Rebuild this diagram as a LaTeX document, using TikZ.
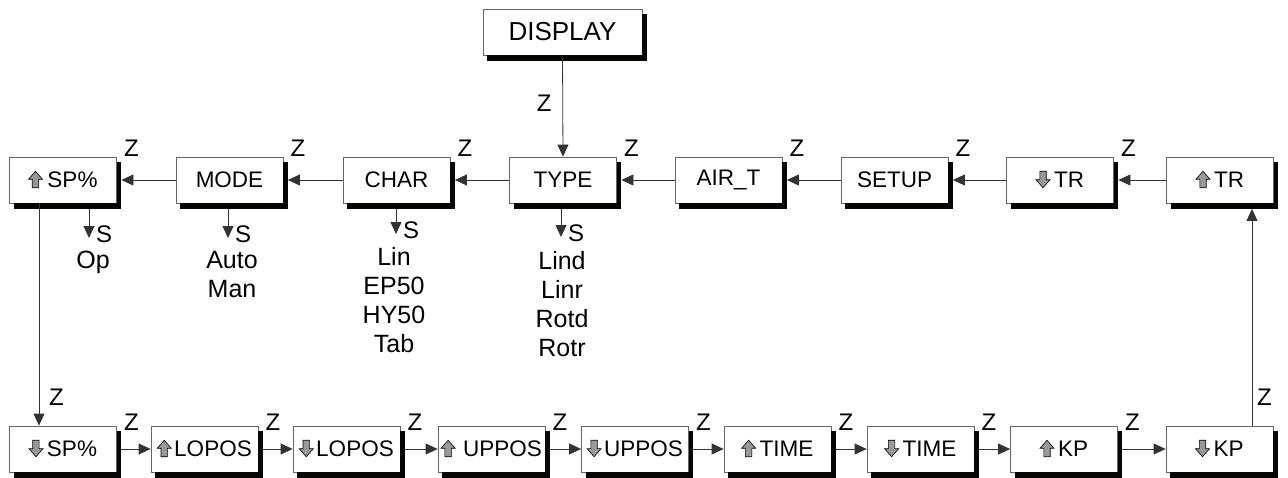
\documentclass[tikz,border=0pt]{standalone}
\usepackage{fontspec}
\setmainfont{Liberation Sans}
\usetikzlibrary{arrows.meta, calc}
\definecolor{shadowink}{rgb}{0.03,0.02,0.02}

\tikzset{
  menu/.style={draw=black!60, line width=0.8pt, fill=white, minimum width=107pt, minimum height=46pt,
    inner sep=0pt, font=\fontsize{22.5}{26}\selectfont},
  boxshadow/.style={fill=shadowink, draw=none},
  keyglyph/.style={fill=black!40, draw=black, line width=0.6pt},
  flow/.style={draw=black!80, line width=0.8pt, -{Triangle[length=12pt,width=11pt]}},
  keyz/.style={font=\fontsize{24}{28}\selectfont, inner sep=0pt},
  choices/.style={font=\fontsize{25}{29}\selectfont, inner sep=0pt, align=center, anchor=north},
  % grey block arrows shown in front of the box texts (y grows downwards here)
  upkey/.pic={\filldraw[keyglyph] (-3.2,0) -- (3.2,0) -- (3.2,-8.5) -- (7,-8.5) -- (0,-16.5) -- (-7,-8.5) -- (-3.2,-8.5) -- cycle;},
  dnkey/.pic={\filldraw[keyglyph] (-3.2,-16.5) -- (3.2,-16.5) -- (3.2,-8) -- (7,-8) -- (0,0) -- (-7,-8) -- (-3.2,-8) -- cycle;},
}

\begin{document}
\begin{tikzpicture}[x=1pt, y=-1pt]
    \useasboundingbox (0,0) rectangle (1288,477);

    \node[menu, minimum width=159pt, font=\fontsize{26}{30}\selectfont] (display) at (562.5,32) {DISPLAY};

    % upper row
    \node[menu] (spup) at (63,180) {\hspace{19pt}SP\%};
    \node[menu] (mode) at (229.5,180) {MODE};
    \node[menu] (char) at (396.5,180) {CHAR};
    \node[menu] (type) at (563,180) {TYPE};
    \node[menu] (airt) at (728.5,180) {AIR\_T};
    \node[menu] (setup) at (894.5,180) {SETUP};
    \node[menu] (trdn) at (1060,180) {\hspace{18pt}TR};
    \node[menu] (trup) at (1220,180) {\hspace{18pt}TR};

    % lower row
    \node[menu] (spdn) at (63,449) {\hspace{18pt}SP\%};
    \node[menu] (loup) at (204.5,449) {\hspace{17pt}LOPOS};
    \node[menu] (lodn) at (346.5,449) {\hspace{17pt}LOPOS};
    \node[menu] (hiup) at (491.5,449) {\hspace{22pt}UPPOS};
    \node[menu] (hidn) at (635,449) {\hspace{17pt}UPPOS};
    \node[menu] (timeup) at (777.5,449) {\hspace{18pt}TIME};
    \node[menu] (timedn) at (920.5,449) {\hspace{18pt}TIME};
    \node[menu] (kpup) at (1064,449) {\hspace{18pt}KP};
    \node[menu] (kpdn) at (1219.5,449) {\hspace{18pt}KP};

    % black shadows: a strip on the right and one below each box
    \foreach \n in {display,spup,mode,char,type,airt,setup,trdn,trup,spdn,loup,lodn,hiup,hidn,timeup,timedn,kpup,kpdn} {
        \fill[boxshadow] ([yshift=-5.5pt]\n.north east) rectangle ([xshift=4.5pt,yshift=-5.5pt]\n.south east);
        \fill[boxshadow] ([xshift=4.5pt]\n.south west) rectangle ([xshift=4.5pt,yshift=-5.5pt]\n.south east);
    }

    \foreach \n in {spup,trup,loup,hiup,timeup,kpup}
        \pic at ([xshift=7pt]\n.text) {upkey};
    \foreach \n in {trdn,spdn,lodn,hidn,timedn,kpdn}
        \pic at ([xshift=7pt]\n.text) {dnkey};

    \draw[flow] (display.south) -- (type.north);
    \node[keyz, anchor=base east] at ($(display.south)!0.55!(type.north) + (-11,0)$) {Z};

    \draw[flow] (mode.west) -- ([xshift=4.5pt]spup.east);
    \draw[flow] (char.west) -- ([xshift=4.5pt]mode.east);
    \draw[flow] (type.west) -- ([xshift=4.5pt]char.east);
    \draw[flow] (airt.west) -- ([xshift=4.5pt]type.east);
    \draw[flow] (setup.west) -- ([xshift=4.5pt]airt.east);
    \draw[flow] (trdn.west) -- ([xshift=4.5pt]setup.east);
    \draw[flow] (trup.west) -- ([xshift=4.5pt]trdn.east);
    \foreach \n in {spup,mode,char,type,airt,setup,trdn}
        \node[keyz, anchor=base west] at ([xshift=7pt]\n.north east) {Z};

    \draw[flow] ([xshift=4.5pt]spdn.east) -- (loup.west);
    \draw[flow] ([xshift=4.5pt]loup.east) -- (lodn.west);
    \draw[flow] ([xshift=4.5pt]lodn.east) -- (hiup.west);
    \draw[flow] ([xshift=4.5pt]hiup.east) -- (hidn.west);
    \draw[flow] ([xshift=4.5pt]hidn.east) -- (timeup.west);
    \draw[flow] ([xshift=4.5pt]timeup.east) -- (timedn.west);
    \draw[flow] ([xshift=4.5pt]timedn.east) -- (kpup.west);
    \draw[flow] ([xshift=4.5pt]kpup.east) -- (kpdn.west);
    \foreach \n in {spdn,loup,lodn,hiup,hidn,timeup,timedn,kpup}
        \node[keyz, anchor=base west] at ([xshift=7pt,yshift=-5pt]\n.north east) {Z};

    % loop down on the left, up on the right
    \draw[flow] ([xshift=-24pt]spup.south) -- ([xshift=-24pt]spdn.north);
    \node[keyz, anchor=base west] at (49,405) {Z};
    \draw[flow] ([xshift=32.5pt]kpdn.north) -- ([xshift=32pt,yshift=-5.5pt]trup.south);
    \node[keyz, anchor=base west] at (1257,405) {Z};

    % S key choices
    \coordinate (spS) at (89,238);
    \coordinate (modeS) at (228,238);
    \coordinate (charS) at (396,234);
    \coordinate (typeS) at (561,237);
    \draw[flow] ([yshift=-5.5pt]spup.south -| spS) -- (spS);
    \draw[flow] ([yshift=-5.5pt]mode.south -| modeS) -- (modeS);
    \draw[flow] ([yshift=-5.5pt]char.south -| charS) -- (charS);
    \draw[flow] ([yshift=-5.5pt]type.south -| typeS) -- (typeS);
    \foreach \n in {spS,modeS,charS,typeS}
        \node[keyz, anchor=base west] at ([xshift=7pt,yshift=-4pt]\n) {S};

    \node[choices] (spopts) at (93,251) {Op};
    \node[choices] (modeopts) at (232,251) {Auto\\Man};
    \node[choices] (charopts) at (394,247) {Lin\\EP50\\HY50\\Tab};
    \node[choices] (typeopts) at (562,251) {Lind\\Linr\\Rotd\\Rotr};
\end{tikzpicture}
\end{document}
